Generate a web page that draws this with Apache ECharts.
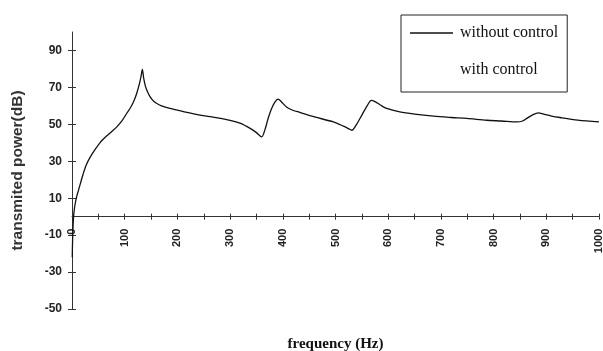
<!DOCTYPE html>
<html>
<head>
<meta charset="utf-8">
<script src="https://cdn.jsdelivr.net/npm/echarts@6/dist/echarts.min.js"></script>
<style>
html,body{margin:0;padding:0;background:#fff;}
#chart{width:603px;height:351px;}
</style>
</head>
<body>
<div id="chart"></div>
<script>
var freq = [0.5, 1, 2, 3, 4, 6, 9, 12, 16, 21, 27, 34, 43, 53, 65, 75, 85, 95, 104, 112, 118, 123, 128, 131, 133.5, 136, 139, 142, 148, 155, 161, 170, 186, 210, 243, 270, 300, 320, 338, 350, 360, 366, 372, 378, 385, 391, 398, 407, 420, 432, 460, 496, 515, 528, 531, 540, 550, 560, 568, 575, 585, 597, 622, 650, 686, 720, 749, 787, 815, 844, 855, 863, 875, 885, 895, 910, 926, 960, 1000];
var powerWithout = [-22, -14, -5, 0, 3, 7, 11, 14, 18, 23, 28, 32, 36, 40, 43.5, 46, 48.6, 52, 56, 59.5, 63, 67, 72, 76, 79.7, 75, 71, 68.5, 65, 62.5, 61.3, 60, 58.6, 57, 55, 53.8, 52.2, 50.5, 47.8, 45.5, 43.2, 47, 53, 58, 62, 63.6, 62, 59.4, 57.5, 56.5, 54, 51.3, 49, 47.2, 46.8, 50, 55, 60, 63, 62.3, 60.5, 58.6, 56.7, 55.5, 54.4, 53.7, 53.2, 52.2, 51.8, 51.3, 51.8, 53.2, 55.3, 56.2, 55.5, 54.5, 53.7, 52.3, 51.3];
var powerWith = [];
var seriesNames = ['without control', 'with control'];
var yTicks = [-50, -30, -10, 10, 30, 50, 70, 90];
var xName = 'frequency (Hz)';
var yName = 'transmited power(dB)';

var lineData = freq.map(function (f, i) { return [f, powerWithout[i]]; });

var gridTop = 32, gridBottom = 42, H = 351;
var yMin = -50, yMax = 100;
// offset of x axis so that it sits at y = 0 (moves line, ticks, labels and name together)
var plotH = H - gridTop - gridBottom;
var xAxisOffset = -plotH * (0 - yMin) / (yMax - yMin);

var chart = echarts.init(document.getElementById('chart'), null, {renderer: 'canvas'});
var labelFont = {fontFamily: 'Liberation Sans, Arial, sans-serif', fontSize: 11, fontWeight: 'bold', color: '#222'};
chart.setOption({
  animation: false,
  backgroundColor: '#fff',
  grid: {left: 72, right: 4, top: gridTop, bottom: gridBottom, containLabel: false, outerBoundsMode: 'none'},
  legend: {
    orient: 'vertical',
    left: 401, top: 15,
    padding: [10, 9, 14, 9],
    itemGap: 21,
    itemWidth: 43, itemHeight: 1.3,
    borderColor: '#222', borderWidth: 1,
    selectedMode: false,
    textStyle: {fontFamily: 'Liberation Serif, Times New Roman, serif', fontSize: 16, color: '#111', padding: [0, 0, 0, 2]},
    data: [
      {name: seriesNames[0], icon: 'rect', itemStyle: {color: '#111'}},
      {name: seriesNames[1], icon: 'rect', itemStyle: {color: '#fff', opacity: 0}}
    ]
  },
  xAxis: [{
    type: 'value', min: 0, max: 1000, interval: 50,
    position: 'bottom', offset: xAxisOffset,
    name: xName, nameLocation: 'middle', nameGap: 120, nameMoveOverlap: false,
    nameTextStyle: {fontFamily: 'Liberation Serif, Times New Roman, serif', fontSize: 15, fontWeight: 'bold', color: '#111'},
    axisLine: {onZero: false, lineStyle: {color: '#333', width: 1}},
    axisTick: {show: true, length: 3, inside: false, lineStyle: {color: '#333'}},
    axisLabel: Object.assign({rotate: 90, margin: 12, showMaxLabel: true, showMinLabel: true,
      formatter: function (v) { return v % 100 === 0 ? String(v) : ''; }}, labelFont),
    splitLine: {show: false}
  }, {
    type: 'value', min: 0, max: 1000, interval: 50,
    position: 'bottom', offset: xAxisOffset,
    axisLine: {onZero: false, show: false},
    axisTick: {show: true, length: 3, inside: true, lineStyle: {color: '#333'}},
    axisLabel: {show: false},
    splitLine: {show: false}
  }],
  yAxis: [{
    type: 'value', min: yMin, max: yMax,
    name: yName, nameLocation: 'middle', nameGap: 46, nameRotate: 90, nameMoveOverlap: false,
    nameTextStyle: {fontFamily: 'Liberation Sans, Arial, sans-serif', fontSize: 15.5, fontWeight: 'bold', color: '#333'},
    axisLine: {show: true, onZero: false, lineStyle: {color: '#333', width: 1}},
    axisTick: {show: true, length: 4, inside: false, customValues: yTicks, lineStyle: {color: '#333'}},
    axisLabel: Object.assign({margin: 10, customValues: yTicks}, labelFont, {fontSize: 12}),
    splitLine: {show: false}
  }, {
    type: 'value', min: yMin, max: yMax, position: 'left', offset: 0,
    axisLine: {show: false, onZero: false},
    axisTick: {show: true, length: 4, inside: true, customValues: yTicks, lineStyle: {color: '#333'}},
    axisLabel: {show: false, customValues: yTicks},
    splitLine: {show: false}
  }],
  series: [{
    name: seriesNames[0], type: 'line', data: lineData,
    xAxisIndex: 0, yAxisIndex: 0,
    symbol: 'none', smooth: 0.3,
    lineStyle: {color: '#111', width: 1.3},
    itemStyle: {color: '#111'}
  }, {
    name: seriesNames[1], type: 'line', data: powerWith,
    symbol: 'none',
    lineStyle: {color: '#111', width: 0, opacity: 0},
    itemStyle: {color: '#111'}
  }]
});
</script>
</body>
</html>
